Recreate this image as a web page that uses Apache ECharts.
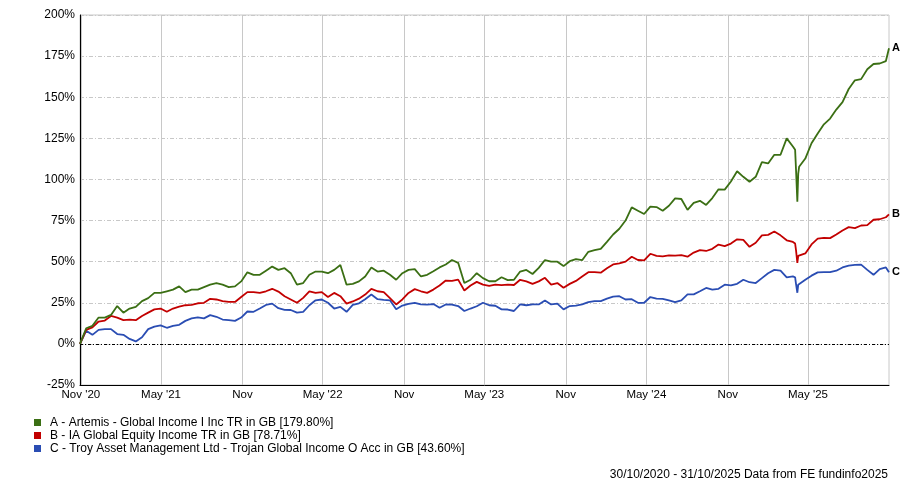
<!DOCTYPE html>
<html>
<head>
<meta charset="utf-8">
<script src="https://cdn.jsdelivr.net/npm/echarts@6/dist/echarts.min.js"></script>
<style>
  html, body { margin: 0; padding: 0; background: #fff; }
  #chart { width: 900px; height: 484px; }
</style>
</head>
<body>
<div id="chart"></div>
<script>
// ---- Data ----
const startDate = '2020-10-30';
const endDate = '2025-10-31';
const stepDays = 14; // one reading every two weeks from startDate

const seriesNames = [
  'A - Artemis - Global Income I Inc TR in GB [179.80%]',
  'B - IA Global Equity Income TR in GB [78.71%]',
  'C - Troy Asset Management Ltd - Trojan Global Income O Acc in GB [43.60%]'
];
const endTags = ['A', 'B', 'C'];
const colors = ['#3b6f14', '#c20000', '#2a4db3'];

const valuesA = [
  0, 9.5, 11, 16, 16, 17.6, 23, 19, 21.5, 22.5,
  26, 27.8, 31, 31, 32, 33, 35, 31.5, 33, 33,
  34.5, 36, 36.9, 36, 34.5, 35, 38, 43.5, 42, 42,
  44.5, 47, 45, 46, 43, 36, 37, 42, 44, 44,
  43, 45, 48, 36, 36.5, 38, 41, 46.5, 44, 44.5,
  42, 39, 43, 45, 45.5, 41, 42, 44.2, 46.5, 48.3,
  51, 49.3, 37, 39, 43, 40, 38.1, 38.1, 40.5, 38.8,
  39, 44, 45, 42.5, 46.2, 51, 50, 50, 47.3, 50.3,
  51.5, 50.9, 56, 57, 57.8, 62, 66.5, 70, 75, 83,
  81, 79, 83.5, 83.2, 81, 84, 88.5, 88.1, 81.5, 85.7,
  87, 84.5, 88.7, 94, 93.8, 98.8, 105, 101.6, 98.6, 101.6,
  110.5, 109.7, 115, 115, 125, 120, 107.7, 112.7, 122, 128,
  133.5, 137, 142.5, 147, 155, 160.3, 161, 167, 170.2, 170.5, 172
];
const valuesB = [
  0, 8.5, 10, 13.6, 14.2, 17, 16, 14.5, 14.8, 14.4,
  17, 19, 21, 21.5, 19.5, 21.5, 22.7, 23.5, 23.7, 24.7,
  25, 27.4, 27, 26, 25.5, 25.5, 28.5, 31.5, 31.5, 31,
  32, 33.5, 31.8, 29, 27, 25, 28, 32, 31, 31.5,
  28.5, 31, 29, 24.5, 25.8, 27.5, 30, 33.5, 32, 31.5,
  27.8, 24, 27, 31, 33.3, 32, 31, 33, 35.5, 38.5,
  38.3, 39.1, 32.5, 35.5, 37.7, 36, 35.3, 36, 35.7, 36,
  35.8, 39, 38, 36.5, 38, 40.2, 36, 37, 34.1, 36.5,
  38.3, 41, 43.6, 43.6, 43.3, 46, 48.3, 49, 50, 53,
  51, 50.8, 54.8, 53.5, 53.2, 53.8, 53.7, 54, 53, 55.5,
  57, 56.5, 57.8, 60.4, 59.5, 61, 63.6, 63.3, 59, 61.5,
  66, 66.3, 68.3, 66, 63, 62, 53.2, 55, 60.5, 64,
  64.5, 64.3, 66.5, 69, 71, 70.4, 72, 72.2, 75.5, 75.8, 77
];
const valuesC = [
  0, 8, 5.5, 8.5, 9, 9, 6, 5.5, 3, 1.5,
  4, 9, 10.5, 11.3, 9.8, 11, 11.6, 14, 15.5, 16.1,
  15.5, 17.5, 16.5, 14.8, 14.5, 14, 16, 19.7, 19.5, 21.5,
  23.7, 24.5, 21.7, 20.7, 20.6, 19, 19.5, 23.5, 26.5, 27,
  25, 21.5, 22.5, 19.5, 23.7, 24.7, 27.2, 30, 27.2, 26.8,
  26.5, 21, 23.3, 24.3, 25, 24, 23.9, 24.2, 22, 24,
  23.9, 23, 20, 21.5, 22.9, 25, 23.5, 23.2, 21, 20.9,
  20, 24, 23.5, 24, 24, 26.4, 24, 24.5, 21, 23,
  23.3, 24, 25.4, 26, 26, 27.5, 28.8, 29, 27, 27.2,
  25, 25, 28.5, 27.5, 27.4, 26.5, 25.4, 26.5, 30.1, 30.1,
  32, 34, 33, 33.5, 36, 35.6, 36.5, 39, 37.5, 37,
  40, 43, 45, 44.5, 40.5, 41, 35.5, 39, 41.5, 43.5,
  43.6, 43.6, 44.5, 46.5, 47.6, 48, 48.2, 45, 42, 45.5, 46.5
];
const finalValues = [179.80, 78.71, 43.60]; // at endDate

// extra readings around the April 2025 sell-off
const crashDates = ['2025-04-02', '2025-04-04', '2025-04-07', '2025-04-09'];
const crashA = [118, 106, 86.5, 103.6];
const crashB = [61, 57, 49.2, 53.5];
const crashC = [40.5, 36.5, 31.1, 36];

const tickDates = ['2020-11-01', '2021-05-01', '2021-11-01', '2022-05-01', '2022-11-01',
                   '2023-05-01', '2023-11-01', '2024-05-01', '2024-11-01', '2025-05-01'];
const tickLabels = ["Nov '20", "May '21", "Nov", "May '22", "Nov",
                    "May '23", "Nov", "May '24", "Nov", "May '25"];
const yTicks = { min: -25, max: 200, interval: 25 };

// ---- Build ----
function ts(s) { const p = s.split('-').map(Number); return Date.UTC(p[0], p[1] - 1, p[2]); }
const DAY = 86400000;
const t0 = ts(startDate), t1 = ts(endDate);
const tickTs = tickDates.map(ts);

function buildSeries(vals, crashVals, finalVal) {
  const pts = vals.map((v, i) => [t0 + i * stepDays * DAY, v]);
  crashDates.forEach((d, k) => pts.push([ts(d), crashVals[k]]));
  pts.push([t1, finalVal]);
  pts.sort((a, b) => a[0] - b[0]);
  return pts;
}
const allVals = [valuesA, valuesB, valuesC];
const allCrash = [crashA, crashB, crashC];

const FONT = '"Liberation Sans", Arial, sans-serif';

const series = allVals.map((vals, k) => {
  const s = {
    name: seriesNames[k],
    type: 'line',
    data: buildSeries(vals, allCrash[k], finalValues[k]),
    showSymbol: false,
    symbol: 'none',
    lineStyle: { color: colors[k], width: 1.8 },
    itemStyle: { color: colors[k] },
    endLabel: {
      show: true, formatter: endTags[k], color: '#000', fontWeight: 'bold',
      fontSize: 11, fontFamily: FONT, distance: 3
    },
    z: 5 - k
  };
  if (k === 0) {
    s.markLine = {
      silent: true, symbol: 'none', label: { show: false },
      lineStyle: { color: '#000', type: [3, 2, 1, 2], width: 1 },
      data: [{ yAxis: 0 }]
    };
  }
  return s;
});

const chart = echarts.init(document.getElementById('chart'), null, { renderer: 'canvas' });
chart.setOption({
  animation: false,
  backgroundColor: '#fff',
  grid: { left: 80, right: 11, top: 15, bottom: 99, show: true, borderColor: '#c8c8c8', borderWidth: 1 },
  xAxis: {
    type: 'value',
    min: t0, max: t1,
    axisLine: { show: true, onZero: false, lineStyle: { color: '#000', width: 1 } },
    axisTick: { show: false, customValues: tickTs },
    axisLabel: {
      customValues: tickTs,
      formatter: function (v) {
        const idx = tickTs.indexOf(v);
        return idx >= 0 ? tickLabels[idx] : '';
      },
      color: '#000', fontSize: 11.5, fontFamily: FONT, margin: 4
    },
    splitLine: { show: true, lineStyle: { color: '#c8c8c8', width: 1, type: 'solid' } }
  },
  yAxis: {
    type: 'value',
    min: yTicks.min, max: yTicks.max, interval: yTicks.interval,
    axisLine: { show: true, lineStyle: { color: '#000', width: 1 } },
    axisTick: { show: false },
    axisLabel: { formatter: '{value}%', color: '#000', fontSize: 12, fontFamily: FONT, margin: 5 },
    splitLine: { show: true, lineStyle: { color: '#c8c8c8', width: 1, type: [4, 2, 1, 2] } }
  },
  legend: {
    orient: 'vertical', left: 34, top: 416, padding: 0,
    icon: 'rect', itemWidth: 7, itemHeight: 7, itemGap: 0,
    selectedMode: false,
    textStyle: { color: '#000', fontSize: 12, fontFamily: FONT, lineHeight: 13, padding: [0, 0, 0, 4] },
    data: seriesNames
  },
  graphic: [{
    type: 'text', right: 12, top: 469,
    style: { text: '30/10/2020 - 31/10/2025 Data from FE fundinfo2025', fill: '#000', font: '12px ' + FONT }
  }],
  series: series
});
</script>
</body>
</html>
